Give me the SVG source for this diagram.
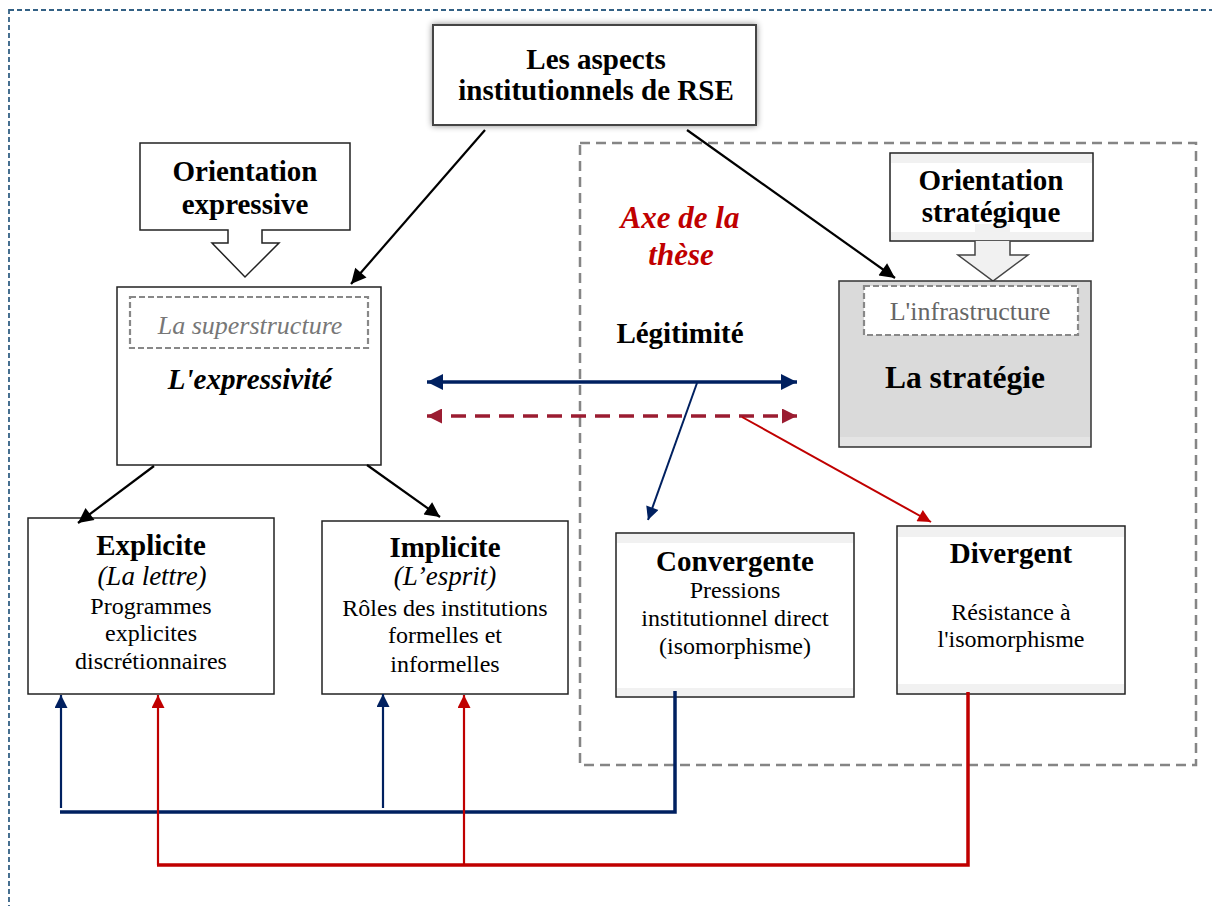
<svg xmlns="http://www.w3.org/2000/svg" width="1212" height="906" viewBox="0 0 1212 906">
<style>
text{font-family:"Liberation Serif","Times New Roman",serif;text-anchor:middle;fill:#000}
.t29{font-size:29px;font-weight:bold}
.bi{font-weight:bold;font-style:italic}
.body{font-size:24px}
.box{fill:#fff;stroke:#222;stroke-width:1.5}
.band{fill:#f1f1f1}
.inner{fill:#fff;stroke:#888;stroke-width:2.2;stroke-dasharray:6,3}
.blk{stroke:#000;stroke-width:2.2;fill:none}
.nv{stroke:#002060;fill:none}
.rd{stroke:#c00000;fill:none}
</style>
<defs>
<filter id="sh" x="-10%" y="-20%" width="120%" height="140%">
<feDropShadow dx="0" dy="0" stdDeviation="3" flood-color="#000" flood-opacity="0.45"/>
</filter>
<marker id="mBlk" viewBox="0 0 10 10" refX="10" refY="5" markerWidth="18" markerHeight="15" markerUnits="userSpaceOnUse" orient="auto"><path d="M0,0 L10,5 L0,10 z" fill="#000"/></marker>
<marker id="mNv2" viewBox="0 0 10 10" refX="10" refY="5" markerWidth="16" markerHeight="16" markerUnits="userSpaceOnUse" orient="auto-start-reverse"><path d="M0,0 L10,5 L0,10 z" fill="#002060"/></marker>
<marker id="mDr2" viewBox="0 0 10 10" refX="10" refY="5" markerWidth="16" markerHeight="15" markerUnits="userSpaceOnUse" orient="auto-start-reverse"><path d="M0,0 L10,5 L0,10 z" fill="#9b1c31"/></marker>
<marker id="mNv" viewBox="0 0 10 10" refX="10" refY="5" markerWidth="15" markerHeight="13" markerUnits="userSpaceOnUse" orient="auto"><path d="M0,0 L10,5 L0,10 z" fill="#002060"/></marker>
<marker id="mRd" viewBox="0 0 10 10" refX="10" refY="5" markerWidth="15" markerHeight="13" markerUnits="userSpaceOnUse" orient="auto"><path d="M0,0 L10,5 L0,10 z" fill="#c00000"/></marker>
</defs>

<rect x="0" y="0" width="1212" height="906" fill="#fff"/>
<rect x="9" y="10" width="1212" height="910" fill="none" stroke="#336185" stroke-width="1.8" stroke-dasharray="5,3"/>

<g id="axe-zone">
<rect x="580" y="143" width="616" height="622" fill="none" stroke="#858585" stroke-width="2.5" stroke-dasharray="10,6"/>
<text x="680" y="228" class="bi" style="font-size:31px;fill:#c00000">Axe de la</text>
<text x="681" y="265" class="bi" style="font-size:31px;fill:#c00000">thèse</text>
</g>

<g id="top">
<rect x="433" y="25" width="323" height="100" fill="#fff" stroke="#444" stroke-width="2" filter="url(#sh)"/>
<text x="596" y="69" class="t29">Les aspects</text>
<text x="596" y="100" class="t29">institutionnels de RSE</text>
</g>

<g id="orientation-expressive">
<path d="M140,143 H350 V230 H262 V243 H279 L245,277 L212,243 H228 V230 H140 Z" fill="#fff" stroke="#222" stroke-width="1.5"/>
<text x="245" y="181" class="t29">Orientation</text>
<text x="245" y="214" class="t29">expressive</text>
</g>

<g id="orientation-strategique">
<rect x="890" y="153" width="203" height="88" fill="#fff" stroke="#222" stroke-width="1.5"/>
<rect x="891" y="154" width="201" height="9" class="band"/>
<rect x="891" y="232" width="201" height="8" class="band"/>
<rect x="975" y="224" width="35" height="16" fill="#f1f1f1"/>
<path d="M975,241 V255 H958 L993,281 L1028,255 H1010 V241" fill="#f1f1f1" stroke="#444" stroke-width="1.5"/>
<text x="991" y="190" class="t29">Orientation</text>
<text x="991" y="222" class="t29">stratégique</text>
</g>

<g id="expressivite">
<rect x="117" y="287" width="264" height="178" class="box"/>
<rect x="130" y="297" width="238" height="51" class="inner"/>
<text x="250" y="334" style="font-size:26px;font-style:italic;fill:#777">La superstructure</text>
<text x="250" y="389" class="bi" style="font-size:29px">L'expressivité</text>
</g>

<g id="strategie">
<rect x="839" y="281" width="252" height="166" fill="#dadada" stroke="#333" stroke-width="1.5"/>
<rect x="840" y="437" width="250" height="9" fill="#e4e4e4"/>
<rect x="864" y="286" width="214" height="49" class="inner"/>
<text x="970" y="320" style="font-size:26px;fill:#666">L'infrastructure</text>
<text x="965" y="388" style="font-size:31.5px;font-weight:bold">La stratégie</text>
</g>

<g id="legitimite">
<text x="680" y="343" class="t29">Légitimité</text>
</g>

<g id="explicite">
<rect x="28" y="518" width="246" height="176" class="box"/>
<text x="151" y="555" class="t29">Explicite</text>
<text x="152" y="585" style="font-size:27px;font-style:italic">(La lettre)</text>
<text x="151" y="614" class="body">Programmes</text>
<text x="151" y="641" class="body">explicites</text>
<text x="151" y="669" class="body">discrétionnaires</text>
</g>

<g id="implicite">
<rect x="322" y="521" width="246" height="173" class="box"/>
<text x="445" y="557" class="t29">Implicite</text>
<text x="445" y="585" style="font-size:27px;font-style:italic">(L’esprit)</text>
<text x="445" y="616" class="body">Rôles des institutions</text>
<text x="445" y="643" class="body">formelles et</text>
<text x="445" y="672" class="body">informelles</text>
</g>

<g id="convergente">
<rect x="616" y="533" width="238" height="164" class="box"/>
<rect x="617" y="534" width="236" height="9" class="band"/>
<rect x="617" y="688" width="236" height="8" class="band"/>
<text x="735" y="571" class="t29">Convergente</text>
<text x="735" y="598" class="body">Pressions</text>
<text x="735" y="626" class="body">institutionnel direct</text>
<text x="735" y="654" class="body">(isomorphisme)</text>
</g>

<g id="divergent">
<rect x="897" y="526" width="228" height="168" class="box"/>
<rect x="898" y="527" width="226" height="10" class="band"/>
<rect x="898" y="684" width="226" height="9" class="band"/>
<text x="1011" y="563" class="t29">Divergent</text>
<text x="1011" y="620" class="body">Résistance à</text>
<text x="1011" y="647" class="body">l'isomorphisme</text>
</g>

<g id="connectors">
<line x1="485" y1="130" x2="351" y2="284" class="blk" marker-end="url(#mBlk)"/>
<line x1="687" y1="130" x2="895" y2="278" class="blk" marker-end="url(#mBlk)"/>
<line x1="154" y1="466" x2="78" y2="523" class="blk" marker-end="url(#mBlk)"/>
<line x1="367" y1="465" x2="440" y2="517" class="blk" marker-end="url(#mBlk)"/>

<line x1="427" y1="382" x2="797" y2="382" stroke="#002060" stroke-width="3.5" marker-start="url(#mNv2)" marker-end="url(#mNv2)"/>
<line x1="427" y1="416" x2="797" y2="416" stroke="#9b1c31" stroke-width="3.5" stroke-dasharray="15,9" marker-start="url(#mDr2)" marker-end="url(#mDr2)"/>

<line x1="697" y1="383" x2="648" y2="520" class="nv" stroke-width="2" marker-end="url(#mNv)"/>
<line x1="742" y1="417" x2="931" y2="522" class="rd" stroke-width="2" marker-end="url(#mRd)"/>

<polyline points="675,691 675,812 60,812" class="nv" stroke-width="3.5"/>
<line x1="61" y1="808" x2="61" y2="695" class="nv" stroke-width="2.2" marker-end="url(#mNv)"/>
<line x1="383" y1="808" x2="383" y2="694" class="nv" stroke-width="2.2" marker-end="url(#mNv)"/>

<polyline points="968,692 968,865 157,865" class="rd" stroke-width="3.5"/>
<line x1="158" y1="865" x2="158" y2="695" class="rd" stroke-width="2.2" marker-end="url(#mRd)"/>
<line x1="464" y1="865" x2="464" y2="695" class="rd" stroke-width="2.2" marker-end="url(#mRd)"/>
</g>
</svg>
